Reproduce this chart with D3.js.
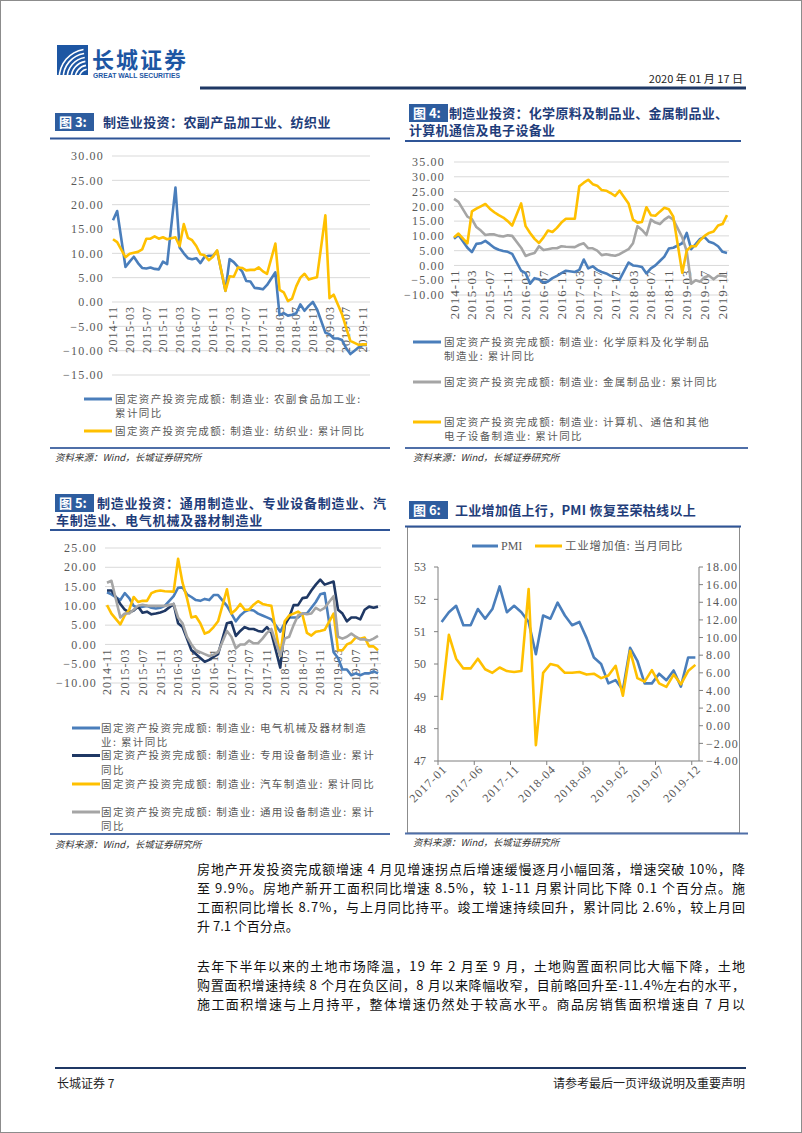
<!DOCTYPE html>
<html><head><meta charset="utf-8">
<script src="https://cdn.jsdelivr.net/npm/d3@7"></script>
<style>
body{margin:0;background:#fff;}
svg{display:block;}
</style></head><body>
<svg id="page" width="802" height="1133"></svg>
<script>
// ---------- DATA ----------
const monthLabels = d3.timeMonth.range(new Date(2014,10,1), new Date(2020,0,1)).map(d3.timeFormat("%Y-%m"));
const monthTickLabels = ["2014-11","2015-03","2015-07","2015-11","2016-03","2016-07","2016-11","2017-03","2017-07","2017-11","2018-03","2018-07","2018-11","2019-03","2019-07","2019-11"];

// Fig 3
const agriFood = [16.8,18.7,null,7.2,8.3,9.3,8.0,7.0,6.9,7.1,6.8,6.7,8.3,7.8,
  null,23.5,11.2,10.0,9.0,8.8,9.0,8.0,9.3,9.5,9.5,10.5,
  null,2.3,8.8,8.2,7.2,6.3,4.3,4.2,2.9,2.8,2.6,3.5,
  null,6.1,-2.7,-2.3,-2.8,-2.6,-2.3,-0.5,-1.8,-0.8,0.0,-1.5,
  null,-6.3,-6.6,-7.5,-7.5,-7.8,-9.5,-10.7,-10.0,-9.3,-8.8,-8.8];
const textile = [12.9,12.3,null,9.2,9.9,10.1,10.3,10.8,13.0,13.0,13.5,13.0,13.3,12.9,
  null,13.3,11.5,16.0,13.2,12.7,11.5,9.8,9.6,8.6,9.3,10.6,
  null,2.3,5.3,5.2,7.1,7.0,6.5,6.6,6.6,7.1,6.3,5.8,
  null,12.0,2.5,2.0,0.2,0.7,3.2,5.0,5.8,4.6,4.9,5.1,
  null,17.8,0.8,1.5,-0.5,-2.5,-5.3,-8.0,-8.4,-8.8,-8.7,-8.7];
const fig3Ticks = [30,25,20,15,10,5,0,-5,-10,-15];

// Fig 4
const chemical = [9.0,10.3,null,6.0,4.5,7.3,7.5,8.3,7.2,6.0,5.3,4.9,4.6,3.9,
  null,-1.8,-2.6,-6.2,-4.3,-4.7,-5.8,-5.4,-4.3,-3.5,-2.6,-1.8,
  null,-2.2,-1.5,2.0,-1.0,-0.3,-1.5,-2.2,-2.7,-3.5,-4.2,-4.8,
  null,1.0,0.0,-0.2,-0.5,-2.7,-1.0,0.0,1.5,3.0,5.7,6.0,
  null,7.5,11.0,5.5,7.2,9.0,9.6,8.0,7.5,6.5,4.6,4.2];
const metal = [22.5,21.5,null,16.5,15.7,13.0,11.8,10.3,10.5,10.5,10.0,9.8,10.2,10.0,
  null,6.0,3.2,3.8,4.2,6.5,5.2,5.5,5.8,5.8,6.5,6.3,
  null,6.2,7.0,7.5,5.8,5.8,5.0,3.5,3.8,3.5,3.3,3.8,
  null,5.5,7.5,13.3,12.0,10.3,15.5,14.5,14.0,15.5,16.5,15.5,
  null,9.5,4.8,-6.2,-5.0,-5.5,-4.0,-3.5,-4.7,-3.5,-3.5,-3.8];
const computer = [9.5,10.8,null,7.5,18.3,19.2,20.0,20.8,19.2,18.0,17.0,16.2,15.0,13.5,
  null,21.0,13.3,11.0,9.0,7.6,9.5,11.8,11.3,12.7,14.5,15.8,
  null,15.8,26.8,28.0,29.0,27.5,27.0,25.5,25.3,24.5,23.5,25.3,
  null,21.0,15.5,14.5,14.7,19.7,17.0,16.8,18.2,19.5,19.0,16.5,
  null,-2.5,5.0,6.5,6.5,8.5,10.0,11.0,11.5,13.5,14.0,17.0];
const fig4Ticks = [35,30,25,20,15,10,5,0,-5,-10];

// Fig 5
const electrical = [13.5,13.0,null,11.5,13.3,12.0,10.0,9.5,9.8,10.0,9.5,9.3,9.5,10.0,
  null,12.5,14.7,14.8,13.0,12.3,11.5,11.3,11.8,11.5,12.8,12.8,
  null,10.0,8.0,6.0,7.5,8.5,9.0,8.8,8.0,7.5,7.0,6.5,
  null,3.3,5.5,7.0,7.0,7.0,8.0,8.0,9.5,11.0,13.0,13.3,
  null,-2.0,-3.5,-6.5,-6.5,-8.0,-7.5,-8.0,-7.5,-7.5,-7.0,-7.5];
const specialEquip = [14.0,14.0,null,10.5,9.0,8.3,8.8,9.8,8.2,8.5,7.8,8.0,8.3,8.7,
  null,10.5,5.5,4.5,1.5,-1.5,-2.5,-3.5,-4.5,-4.0,-3.2,-2.5,
  null,5.5,5.8,2.2,3.5,4.5,4.0,4.0,3.5,3.3,4.5,3.0,
  null,-6.0,5.0,7.0,10.2,10.2,12.0,12.2,14.0,15.5,16.8,15.5,
  null,16.3,9.0,8.0,6.0,7.0,7.0,6.5,9.0,9.8,9.5,9.8];
const automobile = [10.2,8.0,null,5.2,7.5,9.0,12.3,11.0,11.3,11.3,13.3,13.8,14.0,13.8,
  null,13.7,22.2,16.0,12.0,7.0,7.3,5.5,2.8,3.3,4.5,6.0,
  null,14.3,8.0,9.0,10.5,9.0,9.0,10.3,11.2,10.5,10.2,10.0,
  null,-3.0,6.0,7.5,8.0,8.5,7.7,3.0,2.3,3.3,3.5,3.8,
  null,8.0,-1.5,-1.5,0.0,0.5,1.8,1.5,1.8,-0.5,-0.5,-1.5];
const generalEquip = [16.0,16.5,null,7.0,8.0,8.0,9.0,10.0,10.3,10.0,10.0,10.0,10.0,10.0,
  null,10.5,7.0,5.5,2.0,0.0,-1.5,-2.0,-2.5,-3.0,-2.7,-2.0,
  null,3.5,2.0,-1.0,0.0,0.0,1.0,0.3,0.3,1.5,3.0,4.0,
  null,-3.0,1.5,2.0,5.0,7.5,8.0,7.8,8.0,9.5,8.8,9.5,
  null,12.5,2.0,1.5,2.0,2.8,2.0,1.3,1.3,1.0,1.5,2.2];
const fig5Ticks = [25,20,15,10,5,0,-5,-10];

// Fig 6
const pmiMonths = d3.timeMonth.range(new Date(2017,0,1), new Date(2020,0,1)).map(d3.timeFormat("%Y-%m"));
const pmiTickLabels = ["2017-01","2017-06","2017-11","2018-04","2018-09","2019-02","2019-07","2019-12"];
const pmi = [51.3,51.6,51.8,51.2,51.2,51.7,51.4,51.7,52.4,51.6,51.8,51.6,
  51.3,50.3,51.5,51.4,51.9,51.5,51.2,51.3,50.8,50.2,50.0,49.4,
  49.5,49.2,50.5,50.1,49.4,49.4,49.7,49.5,49.8,49.3,50.2,50.2];
const industrialVA = [2.9,10.3,7.6,6.5,6.5,7.6,6.4,6.0,6.6,6.2,6.1,6.2,
  15.5,-2.2,6.0,7.0,6.8,6.0,6.0,6.1,5.8,5.9,5.4,5.7,
  6.8,3.4,8.5,5.4,5.0,6.3,4.8,4.4,5.8,4.7,6.2,6.9];
const pmiTicks = [47,48,49,50,51,52,53];
const ivaTicks = [-4,-2,0,2,4,6,8,10,12,14,16,18];

// ---------- STYLE ----------
const BLUE = "#4a7ebb", YELLOW = "#ffc000", GRAY = "#a5a5a5", NAVY = "#1f3864";
const CJK = "'Noto Sans CJK SC', sans-serif";
const SERIF = "'Liberation Serif', 'DejaVu Serif', serif";
const svg = d3.select("#page");

svg.append("rect").attr("x",0.5).attr("y",0.5).attr("width",801).attr("height",1132)
  .attr("fill","#fff").attr("stroke","#8c8c8c");

// ---------- HEADER ----------
const logo = svg.append("g");
logo.append("rect").attr("x",57).attr("y",45).attr("width",31).attr("height",30).attr("fill","#1d56a3");
[0,1,2,3,4,5].forEach(k=>{
  const r = 8 + k*4;
  logo.append("path")
    .attr("d", d3.arc()({innerRadius:r, outerRadius:r+1.6, startAngle:-Math.PI*0.5, endAngle:-Math.PI*0.05}))
    .attr("transform","translate(88,78)").attr("fill","#fff");
});
svg.append("text").attr("x",92).attr("y",68).attr("font-family",CJK).attr("font-size",22)
  .attr("font-weight","bold").attr("fill","#1d56a3").attr("letter-spacing",2).text("长城证券");
svg.append("text").attr("x",93).attr("y",78).attr("font-family","'Liberation Sans', sans-serif").attr("font-size",6.8)
  .attr("font-weight","bold").attr("fill","#1d56a3").text("GREAT WALL SECURITIES");
svg.append("text").attr("x",743).attr("y",83).attr("text-anchor","end").attr("font-family",CJK)
  .attr("font-size",11).attr("fill","#222").text("2020 年 01 月 17 日");
svg.append("line").attr("x1",200).attr("x2",746).attr("y1",88).attr("y2",88).attr("stroke",NAVY).attr("stroke-width",3);

// ---------- helpers ----------
function figTitle(num, x, y, lines, titleX, lineStart2, spacing) {
  svg.append("rect").attr("x",x).attr("y",y).attr("width",39).attr("height",18).attr("fill","#2e5d9f");
  svg.append("text").attr("x",x+4).attr("y",y+14).attr("font-family",CJK).attr("font-size",13)
    .attr("font-weight","bold").attr("fill","#fff").text("图 " + num + ":");
  lines.forEach((t,i)=>{
    svg.append("text").attr("x", i===0 ? titleX : lineStart2).attr("y", y+14+i*17)
      .attr("font-family",CJK).attr("font-size",13).attr("letter-spacing",spacing)
      .attr("font-weight","bold").attr("fill","#1f3d7a").text(t);
  });
}
function hline(x1,x2,y,color,w){
  svg.append("line").attr("x1",x1).attr("x2",x2).attr("y1",y).attr("y2",y).attr("stroke",color).attr("stroke-width",w);
}
function source(x,y){
  svg.append("text").attr("x",x).attr("y",y).attr("font-family",CJK).attr("font-size",9.5)
    .attr("font-style","italic").attr("fill","#333").text("资料来源：Wind，长城证券研究所");
}
function legendItem(x, y, color, lines, textX) {
  svg.append("line").attr("x1",x).attr("x2",x+28).attr("y1",y).attr("y2",y).attr("stroke",color).attr("stroke-width",3);
  lines.forEach((t,i)=>{
    svg.append("text").attr("x",textX).attr("y",y+i*14.5).attr("dy","0.35em").attr("font-family",CJK)
      .attr("font-size",10.5).attr("letter-spacing",1.4).attr("fill","#595959").text(t);
  });
}
function monthlyChart(cfg){
  const g = svg.append("g");
  const x = d3.scalePoint().domain(monthLabels).range(cfg.xRange);
  const y = d3.scaleLinear().domain(cfg.yDomain).range(cfg.yRange);
  cfg.ticks.forEach(t=>{
    g.append("line").attr("x1",cfg.gridX[0]).attr("x2",cfg.gridX[1]).attr("y1",y(t)).attr("y2",y(t))
      .attr("stroke","#d9d9d9").attr("stroke-width",1);
    g.append("text").attr("x",cfg.labelX).attr("y",y(t)).attr("dy","0.35em").attr("text-anchor","end")
      .attr("font-family",SERIF).attr("font-size",12).attr("letter-spacing",1.2).attr("fill","#595959")
      .text(d3.format(".2f")(t));
  });
  monthTickLabels.forEach(m=>{
    g.append("text").attr("transform",`translate(${x(m)},${y(0)+cfg.xLabelGap}) rotate(-90)`)
      .attr("text-anchor","end").attr("dy","0.35em").attr("font-family",SERIF)
      .attr("font-size",cfg.xLabelSize).attr("letter-spacing",1).attr("fill","#595959").text(m);
  });
  const line = d3.line().x(d=>x(d.m)).y(d=>y(d.v));
  cfg.series.forEach(s=>{
    const pts = s.values.map((v,i)=>({m:monthLabels[i], v})).filter(d=>d.v!==null);
    g.append("path").attr("d",line(pts)).attr("fill","none").attr("stroke",s.color)
      .attr("stroke-width",2.6).attr("stroke-linejoin","round");
  });
}

// ---------- FIG 3 ----------
figTitle("3", 55, 113, ["制造业投资：农副产品加工业、纺织业"], 103, 103, 0.4);
hline(50,390,138.5,"#2f5597",2);
monthlyChart({xRange:[113,367], yDomain:[-15,30], yRange:[375,156], gridX:[112,370], labelX:104,
  ticks:fig3Ticks, xLabelGap:4, xLabelSize:12,
  series:[{values:agriFood,color:BLUE},{values:textile,color:YELLOW}]});
legendItem(84,399,BLUE,["固定资产投资完成额: 制造业: 农副食品加工业:","累计同比"],115);
legendItem(84,431,YELLOW,["固定资产投资完成额: 制造业: 纺织业: 累计同比"],115);
hline(50,390,448,"#4f6fa8",2);
source(55,461);

// ---------- FIG 4 ----------
figTitle("4", 409, 104, ["制造业投资：化学原料及制品业、金属制品业、","计算机通信及电子设备业"], 449, 409, 0.3);
hline(405,741,141,"#2f5597",2);
monthlyChart({xRange:[454,727], yDomain:[-10,35], yRange:[295,162], gridX:[454,729], labelX:445,
  ticks:fig4Ticks, xLabelGap:4, xLabelSize:13,
  series:[{values:chemical,color:BLUE},{values:metal,color:GRAY},{values:computer,color:YELLOW}]});
legendItem(413,342,BLUE,["固定资产投资完成额: 制造业: 化学原料及化学制品","制造业: 累计同比"],444);
legendItem(413,382,GRAY,["固定资产投资完成额: 制造业: 金属制品业: 累计同比"],444);
legendItem(413,422,YELLOW,["固定资产投资完成额: 制造业: 计算机、通信和其他","电子设备制造业: 累计同比"],444);
hline(405,748,448,"#4f6fa8",2);
source(413,461);

// ---------- FIG 5 ----------
figTitle("5", 55, 494, ["制造业投资：通用制造业、专业设备制造业、汽","车制造业、电气机械及器材制造业"], 97, 56, 0.8);
hline(50,390,530,"#2f5597",2);
monthlyChart({xRange:[107,378], yDomain:[-10,25], yRange:[683,548], gridX:[105,381], labelX:97,
  ticks:fig5Ticks, xLabelGap:4, xLabelSize:12,
  series:[{values:electrical,color:BLUE},{values:specialEquip,color:NAVY},{values:automobile,color:YELLOW},{values:generalEquip,color:GRAY}]});
legendItem(72,728,BLUE,["固定资产投资完成额: 制造业: 电气机械及器材制造","业: 累计同比"],101);
legendItem(72,755.5,NAVY,["固定资产投资完成额: 制造业: 专用设备制造业: 累计","同比"],101);
legendItem(72,784,YELLOW,["固定资产投资完成额: 制造业: 汽车制造业: 累计同比"],101);
legendItem(72,812,GRAY,["固定资产投资完成额: 制造业: 通用设备制造业: 累计","同比"],101);
hline(50,390,834,"#4f6fa8",2);
source(55,848);

// ---------- FIG 6 ----------
figTitle("6", 409, 501, ["工业增加值上行，PMI 恢复至荣枯线以上"], 455, 455, 0.3);
svg.append("rect").attr("x",407.5).attr("y",527).attr("width",332).attr("height",306)
  .attr("fill","none").attr("stroke","#8c8c8c").attr("stroke-width",1);
hline(405,741,526.5,"#2f5597",2);
{
  const g = svg.append("g");
  const x = d3.scaleBand().domain(pmiMonths).range([438,699]);
  const yL = d3.scaleLinear().domain([47,53]).range([761,567]);
  const yR = d3.scaleLinear().domain([-4,18]).range([761,567]);
  const axisColor = "#7f7f7f";
  g.append("line").attr("x1",438).attr("x2",438).attr("y1",567).attr("y2",761).attr("stroke",axisColor);
  g.append("line").attr("x1",699).attr("x2",699).attr("y1",567).attr("y2",761).attr("stroke",axisColor);
  g.append("line").attr("x1",438).attr("x2",699).attr("y1",761).attr("y2",761).attr("stroke",axisColor);
  pmiTicks.forEach(t=>{
    g.append("line").attr("x1",434).attr("x2",438).attr("y1",yL(t)).attr("y2",yL(t)).attr("stroke",axisColor);
    g.append("text").attr("x",426).attr("y",yL(t)).attr("dy","0.35em").attr("text-anchor","end")
      .attr("font-family",SERIF).attr("font-size",12).attr("fill","#595959").text(t);
  });
  ivaTicks.forEach(t=>{
    g.append("line").attr("x1",699).attr("x2",703).attr("y1",yR(t)).attr("y2",yR(t)).attr("stroke",axisColor);
    g.append("text").attr("x",706).attr("y",yR(t)).attr("dy","0.35em").attr("text-anchor","start")
      .attr("font-family",SERIF).attr("font-size",12).attr("letter-spacing",1).attr("fill","#595959")
      .text(d3.format(".2f")(t));
  });
  pmiTickLabels.forEach(m=>{
    const xs = x(m);
    g.append("line").attr("x1",xs).attr("x2",xs).attr("y1",761).attr("y2",765).attr("stroke",axisColor);
    g.append("text").attr("transform",`translate(${xs+x.bandwidth()/2+3},${767}) rotate(-45)`)
      .attr("text-anchor","end").attr("dy","0.35em").attr("font-family",SERIF).attr("font-size",12)
      .attr("letter-spacing",1).attr("fill","#595959").text(m);
  });
  const lineL = d3.line().x((d,i)=>x(pmiMonths[i])+x.bandwidth()/2).y(d=>yL(d));
  const lineR = d3.line().x((d,i)=>x(pmiMonths[i])+x.bandwidth()/2).y(d=>yR(d));
  g.append("path").attr("d",lineL(pmi)).attr("fill","none").attr("stroke",BLUE).attr("stroke-width",2.6).attr("stroke-linejoin","round");
  g.append("path").attr("d",lineR(industrialVA)).attr("fill","none").attr("stroke",YELLOW).attr("stroke-width",2.6).attr("stroke-linejoin","round");
  // legend
  g.append("line").attr("x1",472).attr("x2",498).attr("y1",546).attr("y2",546).attr("stroke",BLUE).attr("stroke-width",3);
  g.append("text").attr("x",501).attr("y",546).attr("dy","0.35em").attr("font-family",SERIF).attr("font-size",12).attr("fill","#595959").text("PMI");
  g.append("line").attr("x1",535).attr("x2",562).attr("y1",546).attr("y2",546).attr("stroke",YELLOW).attr("stroke-width",3);
  g.append("text").attr("x",565).attr("y",546).attr("dy","0.35em").attr("font-family",CJK).attr("font-size",11.5).attr("letter-spacing",0.8).attr("fill","#595959").text("工业增加值: 当月同比");
}
hline(405,748,833.5,"#4f6fa8",2);
source(413,846);

// ---------- BODY TEXT ----------
const para1 = ["房地产开发投资完成额增速 4 月见增速拐点后增速缓慢逐月小幅回落，增速突破 10%，降",
  "至 9.9%。房地产新开工面积同比增速 8.5%，较 1-11 月累计同比下降 0.1 个百分点。施",
  "工面积同比增长 8.7%，与上月同比持平。竣工增速持续回升，累计同比 2.6%，较上月回",
  "升 7.1 个百分点。"];
const para2 = ["去年下半年以来的土地市场降温，19 年 2 月至 9 月，土地购置面积同比大幅下降，土地",
  "购置面积增速持续 8 个月在负区间，8 月以来降幅收窄，目前略回升至-11.4%左右的水平，",
  "施工面积增速与上月持平，整体增速仍然处于较高水平。商品房销售面积增速自 7 月以"];
function para(lines, y0, lastFull){
  lines.forEach((t,i)=>{
    const tx = svg.append("text").attr("x",197).attr("y",y0+i*19).attr("dy","0.35em")
      .attr("font-family",CJK).attr("font-size",13).attr("fill","#111").text(t);
    if (i < lines.length-1 || lastFull) tx.attr("textLength",548).attr("lengthAdjust","spacing");
  });
}
para(para1, 869, false);
para(para2, 966, true);

// ---------- FOOTER ----------
hline(55,746,1068,NAVY,2);
svg.append("text").attr("x",57).attr("y",1084).attr("dy","0.35em").attr("font-family",CJK).attr("font-size",12).attr("fill","#222").text("长城证券 7");
svg.append("text").attr("x",745).attr("y",1084).attr("dy","0.35em").attr("text-anchor","end").attr("font-family",CJK).attr("font-size",12).attr("fill","#222").text("请参考最后一页评级说明及重要声明");
</script>
</body></html>
